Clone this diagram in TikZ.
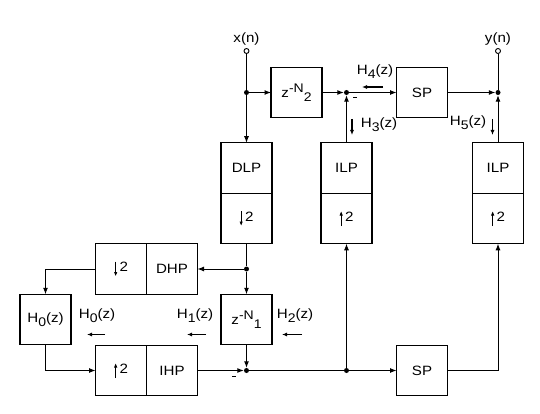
\documentclass[tikz,border=0pt]{standalone}
\usepackage{fontspec}
\setmainfont{Liberation Sans}[FakeStretch=1.12]
\usetikzlibrary{arrows.meta,positioning}

\newcommand{\lo}[1]{\raisebox{-4pt}{\fontsize{12.5}{14}\selectfont #1}}
\newcommand{\hi}[1]{\raisebox{5pt}{\fontsize{12.5}{14}\selectfont #1}}
\newcommand{\dnmark}{\tikz[baseline=0pt]\draw[line width=1pt,-{Latex[length=4.5pt,width=3.5pt]}] (0pt,10pt) -- (0pt,-5pt);\,}
\newcommand{\upmark}{\tikz[baseline=0pt]\draw[line width=1pt,-{Latex[length=4.5pt,width=3.5pt]}] (0pt,-5pt) -- (0pt,10pt);\,}

\begin{document}
\begin{tikzpicture}[x=1pt,y=-1pt,font=\fontsize{13.5}{16}\selectfont,
  blk/.style={draw,line width=1.1pt,minimum width=51pt,minimum height=50.5pt,inner sep=1pt,outer sep=0pt},
  sig/.style={line width=1pt},
  arr/.style={sig,-{Latex[length=6.5pt,width=5pt]}},
  dirarr/.style={line width=1.1pt,-{Latex[length=5pt,width=4pt]}},
  dot/.style={circle,fill,inner sep=0pt,minimum size=5pt},
  port/.style={circle,draw,fill=white,inner sep=0pt,minimum size=5pt,line width=0.9pt}]
\useasboundingbox (0,0) rectangle (540,414);

% input, output and junctions
\node[port,label={[label distance=-1pt]above:x(n)}] (xin) at (246.5,51) {};
\node[port,label={[label distance=-1pt]above:y(n)}] (yout) at (498,51) {};
\node[dot] (j1) at (246.5,92.5) {};
\node[dot] (j2) at (346.5,92.5) {};
\node[dot] (j3) at (498,92.5) {};
\node[dot] (j4) at (246.5,269) {};
\node[dot] (j5) at (246.5,370.5) {};
\node[dot] (j6) at (346.5,370.5) {};

% blocks
\node[blk] (zn2) at (296.5,92.5) {z\hi{-N}\lo{2}};
\node[blk] (sp1) at (422,92.5) {SP};
\node[blk] (dlp) at (246.5,168) {DLP};
\node[blk,below=0pt of dlp] (dn1) {\dnmark2};
\node[blk] (ilp1) at (346.5,168) {ILP};
\node[blk,below=0pt of ilp1] (up1) {\upmark2};
\node[blk] (ilp2) at (498,168) {ILP};
\node[blk,below=0pt of ilp2] (up2) {\upmark2};
\node[blk] (dn2) at (121,269) {\dnmark2};
\node[blk,right=0pt of dn2] (dhp) {DHP};
\node[blk] (h0) at (45.5,319.5) {H\lo{0}(z)};
\node[blk] (zn1) at (246.5,319.5) {z\hi{-N}\lo{1}};
\node[blk] (up0) at (121,370.5) {\upmark2};
\node[blk,right=0pt of up0] (ihp) {IHP};
\node[blk] (sp2) at (422,370.5) {SP};

% signal paths
\draw[sig] (xin) -- (j1);
\draw[arr] (j1) -- (zn2);
\draw[arr] (j1) -- (dlp);
\draw[arr] (zn2) -- (j2);
\draw[arr] (j2) -- (sp1);
\draw[arr] (sp1) -- (j3);
\draw[sig] (j3) -- (yout);
\draw[arr] (ilp1) -- (j2);
\draw[arr] (ilp2) -- (j3);
\draw[sig] (dn1) -- (j4);
\draw[arr] (j4) -- (dhp);
\draw[arr] (j4) -- (zn1);
\draw[arr] (dn2) -| (h0);
\draw[arr] (h0) |- (up0);
\draw[arr] (ihp) -- (j5);
\draw[arr] (zn1) -- (j5);
\draw[sig] (j5) -- (j6);
\draw[arr] (j6) -- (sp2);
\draw[arr] (j6) -- (up1);
\draw[arr] (sp2) -| (up2);

% signs and transfer function marks
\draw[line width=1pt] (353,97.5) -- (357,97.5);
\draw[line width=1pt] (232,376) -- (236,376);
\node (h4) at (375,72) {H\lo{4}(z)};
\draw[dirarr] (383,87) -- (362,87);
\node (h3) at (379,125) {H\lo{3}(z)};
\draw[dirarr] (352,119) -- (352,135);
\node (h5) at (468,123) {H\lo{5}(z)};
\draw[dirarr] (492.5,119) -- (492.5,135);
\node (h0l) at (97,316) {H\lo{0}(z)};
\draw[dirarr] (105,334.5) -- (87,334.5);
\node (h1l) at (195,316) {H\lo{1}(z)};
\draw[dirarr] (206,334.5) -- (187,334.5);
\node (h2l) at (295,316) {H\lo{2}(z)};
\draw[dirarr] (302,334.5) -- (282,334.5);
\end{tikzpicture}
\end{document}
